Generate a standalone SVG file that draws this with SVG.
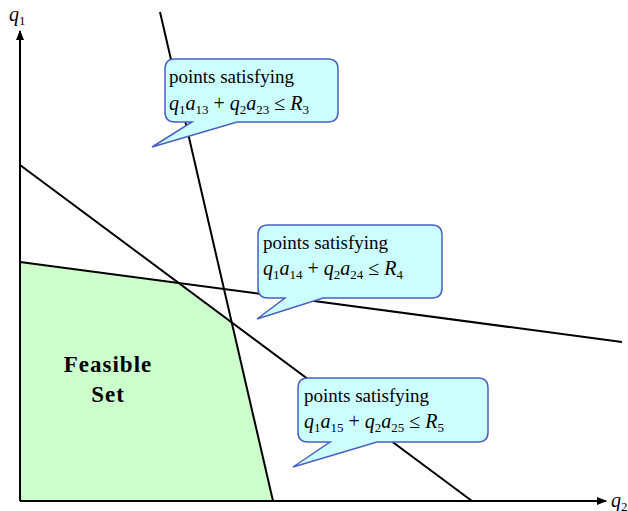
<svg xmlns="http://www.w3.org/2000/svg" width="628" height="511" viewBox="0 0 628 511">
<style>
.ln{stroke:#000;stroke-width:2;fill:none}
.co{fill:#ccffff;stroke:#4a5fc0;stroke-width:1.5}
.t{font-family:"Liberation Serif",serif;font-size:19px;fill:#000}
.m{font-family:"Liberation Serif",serif;font-size:20px;fill:#000;font-style:italic}
.s{font-style:normal;font-size:13px}
.u{font-style:normal}
.fs{font-family:"Liberation Serif",serif;font-size:23px;font-weight:bold;letter-spacing:1px;fill:#000}
</style>
<defs>
<marker id="ah" markerWidth="10" markerHeight="8" refX="9" refY="4" orient="auto" markerUnits="userSpaceOnUse">
<path d="M0,0 L10,4 L0,8 Z" fill="#000"/>
</marker>
</defs>
<g id="feasible">
<polygon points="20,262 178,283 233,323 273,501 20,501" fill="#ccffcc"/>
<text class="fs" x="108" y="372" text-anchor="middle">Feasible</text>
<text class="fs" x="108" y="402" text-anchor="middle">Set</text>
</g>
<g id="connectors">
<line class="ln" x1="160" y1="12" x2="273" y2="501"/>
<line class="ln" x1="20" y1="262" x2="622" y2="342"/>
<line class="ln" x1="20" y1="165" x2="472" y2="501"/>
<line class="ln" x1="20" y1="501" x2="20" y2="31" marker-end="url(#ah)"/>
<line class="ln" x1="20" y1="501" x2="606" y2="501" marker-end="url(#ah)"/>
</g>
<g id="axis-labels">
<text class="m" x="9" y="21">q<tspan class="s" dy="4">1</tspan></text>
<text class="m" x="611" y="507">q<tspan class="s" dy="4">2</tspan></text>
</g>
<g id="callout3">
<path class="co" d="M175,59 H328 Q338,59 338,69 V112 Q338,122 328,122 H237 L152,147 L192,122 H175 Q165,122 165,112 V69 Q165,59 175,59 Z"/>
<text class="t" x="169" y="83">points satisfying</text>
<text class="m" x="169" y="110">q<tspan class="s" dy="4">1</tspan><tspan dy="-4">a</tspan><tspan class="s" dy="4">13</tspan><tspan class="u" dy="-4"> + </tspan><tspan>q</tspan><tspan class="s" dy="4">2</tspan><tspan dy="-4">a</tspan><tspan class="s" dy="4">23</tspan><tspan class="u" dy="-4"> ≤ </tspan><tspan>R</tspan><tspan class="s" dy="4">3</tspan></text>
</g>
<g id="callout4">
<path class="co" d="M268,225 H432 Q442,225 442,235 V288 Q442,298 432,298 H323 L257,319 L285,298 H268 Q258,298 258,288 V235 Q258,225 268,225 Z"/>
<text class="t" x="263" y="249">points satisfying</text>
<text class="m" x="263" y="275">q<tspan class="s" dy="4">1</tspan><tspan dy="-4">a</tspan><tspan class="s" dy="4">14</tspan><tspan class="u" dy="-4"> + </tspan><tspan>q</tspan><tspan class="s" dy="4">2</tspan><tspan dy="-4">a</tspan><tspan class="s" dy="4">24</tspan><tspan class="u" dy="-4"> ≤ </tspan><tspan>R</tspan><tspan class="s" dy="4">4</tspan></text>
</g>
<g id="callout5">
<path class="co" d="M308,378 H478 Q488,378 488,388 V432 Q488,442 478,442 H377 L293,467 L330,442 H308 Q298,442 298,432 V388 Q298,378 308,378 Z"/>
<text class="t" x="304" y="402">points satisfying</text>
<text class="m" x="304" y="428">q<tspan class="s" dy="4">1</tspan><tspan dy="-4">a</tspan><tspan class="s" dy="4">15</tspan><tspan class="u" dy="-4"> + </tspan><tspan>q</tspan><tspan class="s" dy="4">2</tspan><tspan dy="-4">a</tspan><tspan class="s" dy="4">25</tspan><tspan class="u" dy="-4"> ≤ </tspan><tspan>R</tspan><tspan class="s" dy="4">5</tspan></text>
</g>
</svg>
